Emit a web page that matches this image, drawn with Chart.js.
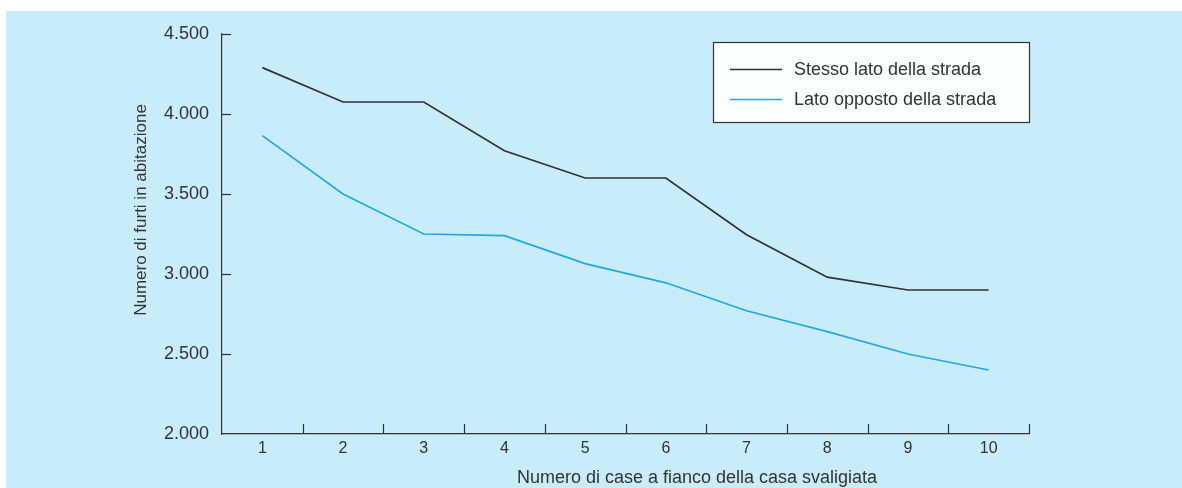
<!DOCTYPE html>
<html>
<head>
<meta charset="utf-8">
<script src="https://cdn.jsdelivr.net/npm/chart.js@4/dist/chart.umd.min.js"></script>
<style>
  html, body { margin: 0; padding: 0; background: #ffffff; }
  #wrap { position: relative; width: 1182px; height: 488px; }
</style>
</head>
<body>
<div id="wrap"><canvas id="c" width="1182" height="488"></canvas></div>
<script>
const categories = ['1', '2', '3', '4', '5', '6', '7', '8', '9', '10'];
const sameSide = [4290, 4075, 4075, 3770, 3600, 3600, 3245, 2980, 2900, 2900];
const oppositeSide = [3865, 3500, 3250, 3240, 3065, 2945, 2770, 2640, 2500, 2400];
const seriesLabels = ['Stesso lato della strada', 'Lato opposto della strada'];
const seriesColors = ['#2e3236', '#1fa8e6'];
const yMin = 2000, yMax = 4500, yStep = 500;
const xTitle = 'Numero di case a fianco della casa svaligiata';
const yTitle = 'Numero di furti in abitazione';

const FONT = '"Liberation Sans", Arial, Helvetica, sans-serif';
const TEXT = '#333333';
const BG = '#c9ecfa';

function fmt(v) {
  return String(v).replace(/\B(?=(\d{3})+(?!\d))/g, '.');
}

const decor = {
  id: 'decor',
  beforeDraw(chart) {
    const ctx = chart.ctx;
    ctx.save();
    ctx.fillStyle = '#ffffff';
    ctx.fillRect(0, 0, chart.width, chart.height);
    ctx.fillStyle = BG;
    ctx.fillRect(6, 11, chart.width - 6, chart.height - 11);
    ctx.restore();
  },
  afterDraw(chart) {
    const ctx = chart.ctx;
    const xs = chart.scales.x, ys = chart.scales.y;
    const area = chart.chartArea;
    ctx.save();
    ctx.strokeStyle = TEXT;
    ctx.lineWidth = 1.2;
    // inward ticks on x axis at category boundaries
    for (let i = 1; i <= categories.length; i++) {
      const px = Math.round(xs.getPixelForValue(i - 0.5)) + 0.5;
      ctx.beginPath();
      ctx.moveTo(px, area.bottom);
      ctx.lineTo(px, area.bottom - 10);
      ctx.stroke();
    }
    // inward ticks on y axis (skip the one on the x axis)
    ys.ticks.forEach(t => {
      if (t.value === yMin) return;
      const py = Math.round(ys.getPixelForValue(t.value)) + 0.5;
      ctx.beginPath();
      ctx.moveTo(area.left, py);
      ctx.lineTo(area.left + 9, py);
      ctx.stroke();
    });
    // axis titles
    ctx.fillStyle = TEXT;
    ctx.font = '18px ' + FONT;
    ctx.textAlign = 'center';
    ctx.textBaseline = 'alphabetic';
    ctx.fillText(xTitle, 697, 483);
    ctx.save();
    ctx.translate(146, 210);
    ctx.rotate(-Math.PI / 2);
    ctx.font = '17px ' + FONT;
    ctx.fillText(yTitle, 0, 0);
    ctx.restore();
    // legend box
    const bx = 713.5, by = 42.5, bw = 316, bh = 80;
    ctx.fillStyle = '#fcfdfd';
    ctx.fillRect(bx, by, bw, bh);
    ctx.strokeStyle = '#333333';
    ctx.lineWidth = 1.2;
    ctx.strokeRect(bx, by, bw, bh);
    const rows = [[69.5, 75], [99.5, 105]];
    chart.data.datasets.forEach((ds, i) => {
      ctx.strokeStyle = ds.borderColor;
      ctx.lineWidth = 1.6;
      ctx.beginPath();
      ctx.moveTo(730, rows[i][0]);
      ctx.lineTo(782, rows[i][0]);
      ctx.stroke();
      ctx.fillStyle = TEXT;
      ctx.font = '18px ' + FONT;
      ctx.textAlign = 'left';
      ctx.textBaseline = 'alphabetic';
      ctx.fillText(ds.label, 794, rows[i][1]);
    });
    ctx.restore();
  }
};

new Chart(document.getElementById('c'), {
  type: 'line',
  data: {
    labels: categories,
    datasets: [
      { label: seriesLabels[0], data: sameSide, borderColor: seriesColors[0], backgroundColor: seriesColors[0], borderWidth: 1.7, pointRadius: 0, tension: 0, fill: false },
      { label: seriesLabels[1], data: oppositeSide, borderColor: seriesColors[1], backgroundColor: seriesColors[1], borderWidth: 1.7, pointRadius: 0, tension: 0, fill: false }
    ]
  },
  options: {
    responsive: false,
    animation: false,
    devicePixelRatio: 1,
    layout: { padding: { left: 0, top: 34, right: 153, bottom: 0 } },
    plugins: { legend: { display: false }, tooltip: { enabled: false } },
    scales: {
      x: {
        type: 'category',
        offset: true,
        grid: { display: false, drawTicks: false },
        border: { display: true, color: TEXT, width: 1.2 },
        ticks: { color: TEXT, font: { family: FONT, size: 16 }, padding: 5, maxRotation: 0, autoSkip: false },
        afterFit(s) { s.height = 54; }
      },
      y: {
        min: yMin, max: yMax,
        grid: { display: false, drawTicks: false },
        border: { display: true, color: TEXT, width: 1.2 },
        ticks: { stepSize: yStep, color: TEXT, font: { family: FONT, size: 18 }, padding: 13, callback: v => fmt(v) },
        afterFit(s) { s.width = 222; }
      }
    }
  },
  plugins: [decor]
});
</script>
</body>
</html>
